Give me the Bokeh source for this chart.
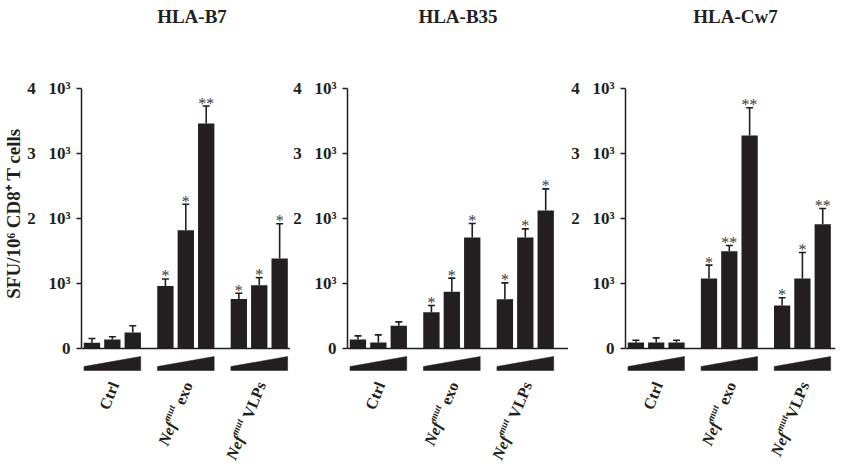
import math
from bokeh.plotting import figure
from bokeh.layouts import row
from bokeh.models import Range1d, FixedTicker, Span, Whisker, TeeHead, ColumnDataSource, Label
from bokeh.core.properties import value
from bokeh.embed import file_html
from bokeh.resources import INLINE

# ---------------- data ----------------
panel_titles = ["HLA-B7", "HLA-B35", "HLA-Cw7"]
group_names = ["Ctrl", "Nef exo", "Nef VLPs"]
doses_per_group = 3

b7_mean = [90, 140, 245, 960, 1820, 3460, 760, 975, 1385]
b7_upper = [155, 180, 350, 1070, 2220, 3730, 850, 1090, 1920]
b7_sig = ["", "", "", "*", "*", "**", "*", "*", "*"]

b35_mean = [138, 92, 349, 559, 872, 1708, 759, 1708, 2123]
b35_upper = [195, 210, 410, 662, 1082, 1923, 1010, 1841, 2456]
b35_sig = ["", "", "", "*", "*", "*", "*", "*", "*"]

cw7_mean = [92, 92, 92, 1077, 1497, 3277, 662, 1077, 1913]
cw7_upper = [128, 164, 128, 1282, 1585, 3703, 780, 1477, 2154]
cw7_sig = ["", "", "", "*", "**", "**", "*", "*", "**"]

y_ticks = [0, 1000, 2000, 3000, 4000]
y_tick_labels = ["0", "10\u00b3", "2\u00a0\u00a0\u00a010\u00b3", "3\u00a0\u00a0\u00a010\u00b3", "4\u00a0\u00a0\u00a010\u00b3"]
y_axis_title = "SFU/10\u2076 CD8\u207a T cells"

# group label parts: (text, style, size_px, raise_px)
nef_exo_parts = [("Nef", "bold italic", 16, 0), ("mut", "bold italic", 10, 6), ("\u00a0exo", "bold", 16, 0)]
nef_vlp_parts = [("Nef", "bold italic", 16, 0), ("mut", "bold italic", 10, 6), ("\u00a0VLPs", "bold", 16, 0)]
nef_vlp_parts_tight = [("Nef", "bold italic", 16, 0), ("mut", "bold italic", 10, 6), ("VLPs", "bold", 16, 0)]
ctrl_parts = [("Ctrl", "bold", 16, 0)]

# ---------------- layout constants ----------------
FONT = "Liberation Serif"
INK = "#231f20"
PX_X = 20.5          # px per bar slot
PX_Y = 0.065         # px per SFU
GROUP_STEP = 3.6     # slots between group starts
FIRST_BAR_PX = 10.5  # px from y axis to first bar centre
TITLE_PX = 111       # px from y axis to title centre
FIG_H = 464
ZERO_Y = 348         # px from figure top to the zero line
BAR_W = 0.8
LABEL_ANGLE = math.radians(68)

# Times / Liberation Serif advance widths (per 1000 em)
W_BOLD = {"C": 722, "t": 333, "r": 444, "l": 278, "e": 444, "x": 500, "o": 500,
          "V": 722, "L": 667, "P": 611, "s": 389, " ": 250, "\u00a0": 250}
W_BI = {"N": 722, "e": 444, "f": 333, "m": 778, "u": 556, "t": 278}


def text_width(txt, style, size):
    table = W_BI if "italic" in style else W_BOLD
    return sum(table.get(c, 500) for c in txt) / 1000.0 * size


def make_panel(title, mean, upper, sig, width, left, right, y_label=None, vlp_parts=nef_vlp_parts):
    frame_w = width - left - right
    x_start = -FIRST_BAR_PX / PX_X
    x_end = x_start + frame_w / PX_X
    y_end = ZERO_Y / PX_Y
    y_start = -(FIG_H - ZERO_Y) / PX_Y

    p = figure(width=width, height=FIG_H, output_backend="svg", toolbar_location=None,
               x_range=Range1d(x_start, x_end), y_range=Range1d(y_start, y_end),
               min_border_left=left, min_border_right=right, min_border_top=0, min_border_bottom=0,
               x_axis_location=None)
    p.outline_line_color = None
    p.grid.visible = False
    p.background_fill_color = "white"
    p.border_fill_color = "white"

    # panel title
    p.add_layout(Label(x=x_start + TITLE_PX / PX_X, y=y_end - 16 / PX_Y, text=title,
                       text_align="center", text_baseline="alphabetic", text_font=FONT,
                       text_font_style="bold", text_font_size="19px", text_color=INK))

    ax = p.yaxis[0]
    ax.ticker = FixedTicker(ticks=y_ticks)
    ax.major_label_overrides = {t: l for t, l in zip(y_ticks, y_tick_labels)}
    ax.bounds = (0, 4000)
    ax.axis_line_width = 1.5
    ax.axis_line_color = INK
    ax.major_tick_line_width = 1.5
    ax.major_tick_line_color = INK
    ax.major_tick_out = 5
    ax.major_tick_in = 0
    ax.minor_tick_line_color = None
    ax.major_label_standoff = 6
    ax.major_label_text_font = FONT
    ax.major_label_text_font_style = "bold"
    ax.major_label_text_font_size = "17px"
    ax.major_label_text_color = INK
    if y_label:
        ax.axis_label = y_label
        ax.axis_label_text_font = FONT
        ax.axis_label_text_font_style = "bold"
        ax.axis_label_text_font_size = "19px"
        ax.axis_label_text_color = INK
        ax.axis_label_standoff = 0

    # bar positions
    xs = [g * GROUP_STEP + d for g in range(len(group_names)) for d in range(doses_per_group)]
    src = ColumnDataSource(dict(x=xs, top=mean, upper=upper, sig=sig,
                                star_y=[u + 3 / PX_Y for u in upper]))
    p.vbar(x="x", top="top", bottom=0, width=BAR_W, source=src, fill_color=INK, line_color=None)
    w = Whisker(base="x", lower="top", upper="upper", source=src, dimension="height",
                line_color=INK, line_width=1.6,
                upper_head=TeeHead(size=7, line_color=INK, line_width=1.6), lower_head=None)
    p.add_layout(w)
    p.text(x="x", y="star_y", text="sig", source=src, text_align="center", text_baseline="alphabetic",
           text_font=value(FONT), text_font_size="16px", text_color="#3a3a3a")

    # zero line
    p.add_layout(Span(location=0, dimension="width", line_color=INK, line_width=1.5))

    # dose wedges
    centres = [g * GROUP_STEP + (doses_per_group - 1) / 2 for g in range(len(group_names))]
    half = 1.39
    y_bot, y_left, y_right = -22 / PX_Y, -18 / PX_Y, -8 / PX_Y
    p.patches(xs=[[c - half, c - half, c + half, c + half] for c in centres],
              ys=[[y_bot, y_left, y_right, y_bot] for _ in centres],
              fill_color=INK, line_color=INK, line_width=0.5)

    # rotated group labels (multi-part for superscripts)
    ca, sa = math.cos(LABEL_ANGLE), math.sin(LABEL_ANGLE)
    for c, parts in zip(centres, [ctrl_parts, nef_exo_parts, vlp_parts]):
        ax_px = c + 2 / PX_X
        ay = -34 / PX_Y
        after = 0.0
        for txt, style, size, rz in reversed(parts):
            dx = -after * ca - rz * sa
            dy = -after * sa + rz * ca
            p.text(x=[ax_px + dx / PX_X], y=[ay + dy / PX_Y], text=[txt], angle=LABEL_ANGLE,
                   text_align="right", text_baseline="alphabetic",
                   text_font=value(FONT), text_font_style=style, text_font_size=f"{size}px",
                   text_color=INK)
            after += text_width(txt, style, size)
    return p


y_label_text = "\u00a0" * 8 + y_axis_title
p1 = make_panel(panel_titles[0], b7_mean, b7_upper, b7_sig, 290, 80, 0, y_label=y_label_text)
p2 = make_panel(panel_titles[1], b35_mean, b35_upper, b35_sig, 278, 56, 0)
p3 = make_panel(panel_titles[2], cw7_mean, cw7_upper, cw7_sig, 280, 55, 13, vlp_parts=nef_vlp_parts_tight)

layout = row(p1, p2, p3, spacing=0)
open("out.html", "w").write(file_html(layout, INLINE))
